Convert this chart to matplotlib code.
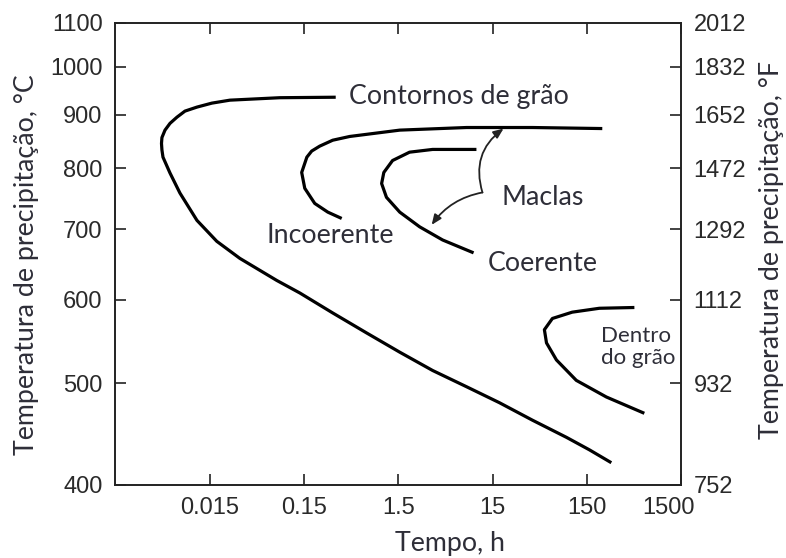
import matplotlib
matplotlib.use("Agg")
import matplotlib.pyplot as plt
from matplotlib.ticker import FixedLocator, FixedFormatter, NullLocator
from matplotlib.transforms import ScaledTranslation

# curvas TTP (tempo em h, temperatura em °C)
contorno_t = [0.324, 0.0826, 0.0244, 0.0157, 0.0109, 0.00813, 0.00668, 0.00564,
              0.00499, 0.00463, 0.00458, 0.00463, 0.00475, 0.00564, 0.00719,
              0.0109, 0.0177, 0.0311, 0.0767, 0.135, 0.301, 0.690, 1.55, 3.46,
              7.94, 17.7, 39.7, 91.2, 160, 273]
contorno_T = [935, 934, 929, 923, 915, 907, 895, 883, 870, 856, 845, 833, 820,
              792, 758, 714, 682, 657, 626, 609, 583, 558, 535, 514, 496, 479,
              461, 444, 432, 420]

incoerente_t = [219, 39.7, 7.94, 1.55, 0.456, 0.301, 0.219, 0.180, 0.160, 0.141,
                0.152, 0.194, 0.267, 0.375]
incoerente_T = [873, 875, 875, 870, 858, 851, 840, 831, 820, 793, 766, 741, 727,
                717]

coerente_t = [10.1, 3.46, 1.97, 1.30, 1.05, 0.995, 1.12, 1.55, 2.52, 4.42, 9.42]
coerente_T = [834, 834, 829, 814, 793, 774, 751, 727, 704, 684, 665]

dentro_t = [480, 204, 105, 64.7, 53.2, 56.0, 71.4, 116, 242, 612]
dentro_T = [590, 589, 584, 576, 562, 546, 526, 503, 485, 468]

# eixos
x_ticks = [0.015, 0.15, 1.5, 15, 150, 1500]
x_labels = ["0.015", "0.15", "1.5", "15", "150", "1500"]
y_ticks_C = [400, 500, 600, 700, 800, 900, 1000, 1100]
y_ticks_F = [round(c * 9 / 5 + 32) for c in y_ticks_C]

# setas das maclas
maclas_origem = (11.7, 759)
maclas_alvos = [(19.6, 873), (3.38, 707)]
maclas_curvatura = [-0.35, 0.2]

TXT = "#2e2e38"
fonte_num = ["Liberation Sans", "DejaVu Sans"]
fonte_txt = ["Lato", "DejaVu Sans"]
TAM = 19.3

fig = plt.figure(figsize=(7.86, 5.58), dpi=100)
ax = fig.add_axes([115 / 786, 1 - 485 / 558, 566 / 786, 462 / 558])

for t, T in [(contorno_t, contorno_T), (incoerente_t, incoerente_T),
             (coerente_t, coerente_T), (dentro_t, dentro_T)]:
    ax.plot(t, T, color="black", lw=2.3, solid_capstyle="butt",
            solid_joinstyle="round")

ax.set_xscale("log")
ax.set_yscale("log")
ax.set_xlim(0.00147, 1500)
ax.set_ylim(400, 1100)

ax.xaxis.set_major_locator(FixedLocator(x_ticks))
ax.xaxis.set_major_formatter(FixedFormatter(x_labels))
ax.xaxis.set_minor_locator(NullLocator())
ax.yaxis.set_major_locator(FixedLocator(y_ticks_C))
ax.yaxis.set_major_formatter(FixedFormatter([str(v) for v in y_ticks_C]))
ax.yaxis.set_minor_locator(NullLocator())
ax.tick_params(direction="in", length=8, width=1.2, top=True, color="#222",
               labelsize=17, pad=9)

ax2 = ax.twinx()
ax2.set_yscale("log")
ax2.set_ylim(400, 1100)
ax2.yaxis.set_major_locator(FixedLocator(y_ticks_C))
ax2.yaxis.set_major_formatter(FixedFormatter([str(v) for v in y_ticks_F]))
ax2.yaxis.set_minor_locator(NullLocator())
ax2.tick_params(direction="in", length=8, width=1.2, color="#222",
                labelsize=17, pad=9)

for a in (ax, ax2):
    for s in a.spines.values():
        s.set_linewidth(1.2)
        s.set_color("#222")
    for lbl in a.get_xticklabels() + a.get_yticklabels():
        lbl.set_family(fonte_num)
        lbl.set_color("#2a2a2a")

# o rótulo 1500 fica um pouco à esquerda para não encostar no 752
ultimo = ax.get_xticklabels()[-1]
ultimo.set_transform(ultimo.get_transform() + ScaledTranslation(-0.12, 0, fig.dpi_scale_trans))

ax.set_xlabel("Tempo, h", fontsize=TAM, family=fonte_txt, color=TXT)
ax.xaxis.set_label_coords(0.592, -0.099)
ax.set_ylabel("Temperatura de precipitação, °C", fontsize=TAM, family=fonte_txt, color=TXT)
ax.yaxis.set_label_coords(-0.135, 0.476)
ax2.set_ylabel("Temperatura de precipitação, °F", fontsize=TAM, family=fonte_txt, color=TXT)
ax2.yaxis.set_label_coords(1.138, 0.509)

ax.text(0.45, 937, "Contornos de grão", fontsize=TAM, family=fonte_txt, color=TXT,
        ha="left", va="center")
ax.text(0.060, 691, "Incoerente", fontsize=TAM, family=fonte_txt, color=TXT,
        ha="left", va="center")
ax.text(13.2, 650, "Coerente", fontsize=TAM, family=fonte_txt, color=TXT,
        ha="left", va="center")
ax.text(18.7, 751, "Maclas", fontsize=TAM, family=fonte_txt, color=TXT,
        ha="left", va="center")
ax.text(214, 541, "Dentro\ndo grão", fontsize=16, family=fonte_txt, color=TXT,
        ha="left", va="center", linespacing=1.15)

for alvo, rad in zip(maclas_alvos, maclas_curvatura):
    ax.annotate("", xy=alvo, xytext=maclas_origem,
                arrowprops=dict(arrowstyle="-|>,head_length=0.6,head_width=0.25",
                                color="#222", lw=1.3, shrinkA=0, shrinkB=0,
                                connectionstyle=f"arc3,rad={rad}"))

fig.savefig("out.png", dpi=100, facecolor="white")
